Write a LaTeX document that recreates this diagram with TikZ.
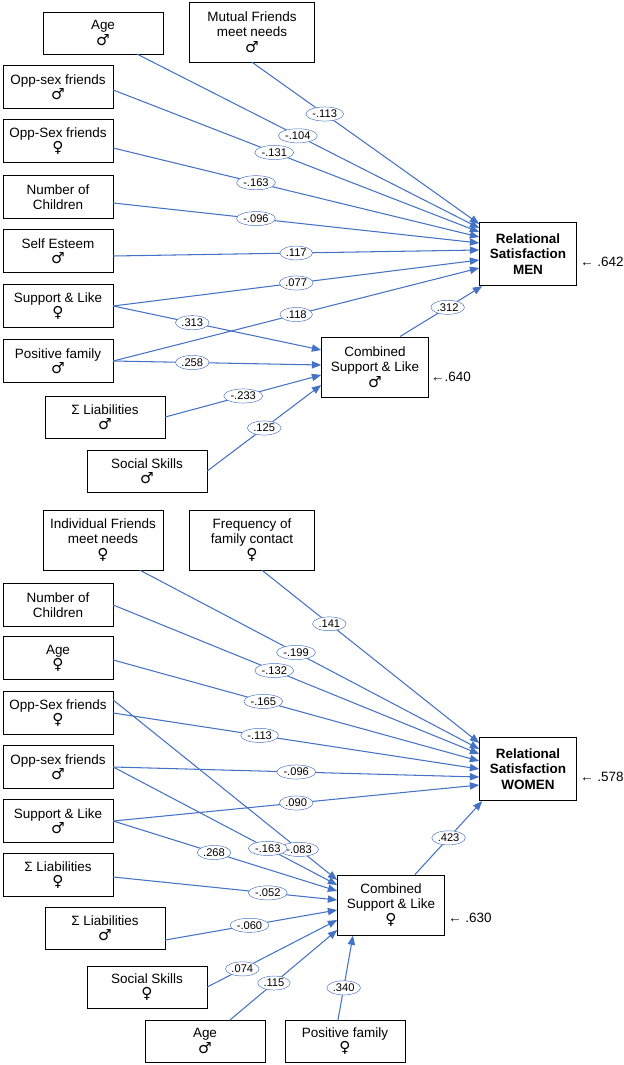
\documentclass[tikz,border=0pt]{standalone}
\usepackage{fontspec}
\setmainfont{Liberation Sans}
\newfontfamily\symfont{DejaVu Sans}
\usetikzlibrary{arrows.meta,shapes.geometric,calc}
\newcommand*{\mS}{{\symfont\fontsize{13}{13}\selectfont\char"2642}}
\newcommand*{\fS}{{\symfont\fontsize{13}{13}\selectfont\char"2640}}
\definecolor{pathblue}{RGB}{68,114,196}
\tikzset{
  box/.style={draw, thin, align=center, minimum width=3.3cm, minimum height=1.29cm, inner sep=1pt, font=\fontsize{11.5}{13}\selectfont},
  wbox/.style={box, minimum width=3.6cm, minimum height=1.25cm},
  tbox/.style={box, minimum width=3.75cm, minimum height=1.8cm},
  outbox/.style={box, thick, minimum width=2.9cm, minimum height=1.9cm, font=\fontsize{11.5}{13}\selectfont\bfseries},
  combbox/.style={box, thick, minimum width=3.2cm, minimum height=1.8cm},
  path/.style={pathblue, line width=0.9pt, -{Triangle[length=2.8mm,width=2.2mm]}},
  lab/.style={ellipse, draw, thin, fill=white, inner sep=0.9pt, font=\fontsize{9.5}{10}\selectfont, text=black},
  resid/.style={font=\fontsize{11.5}{13}\selectfont}
}
\begin{document}
\begin{tikzpicture}[x=0.03cm, y=-0.03cm]
\useasboundingbox (0,0) rectangle (624,1065);

% draw men model

\node[wbox] (age) at (103,33) {Age\\\mS};
\node[tbox] (mutual) at (252,32) {Mutual Friends\\meet needs\\\mS};
\node[box] (oppm) at (58,87) {Opp-sex friends\\\mS};
\node[box] (oppf) at (58,141) {Opp-Sex friends\\\fS};
\node[box] (nchild) at (58,197) {Number of\\Children};
\node[box] (self) at (58,251) {Self Esteem\\\mS};
\node[box] (suppf) at (58,306) {Support \& Like\\\fS};
\node[box] (posfam) at (58,361) {Positive family\\\mS};
\node[wbox] (liab) at (105,417) {Σ Liabilities\\\mS};
\node[wbox] (social) at (147,471) {Social Skills\\\mS};
\node[outbox] (men) at (528,254) {Relational\\Satisfaction\\MEN};
\node[combbox] (comb) at (375,367) {Combined\\Support \& Like\\\mS};
\node[resid] (rmen) at (602,262) {← .642};
\node[resid] (rcomb) at (451,377) {←.640};

\draw[path] (mutual.south) -- ($(men.west)+(0,-30)$) node[lab,pos=.32] {-.113};
\draw[path] ($(age.south)+(34,0)$) -- ($(men.west)+(0,-26)$) node[lab,pos=.47] {-.104};
\draw[path] ($(oppm.east)+(0,3)$) -- ($(men.west)+(0,-22)$) node[lab,pos=.44] {-.131};
\draw[path] ($(oppf.east)+(0,7)$) -- ($(men.west)+(0,-17)$) node[lab,pos=.39] {-.163};
\draw[path] ($(nchild.east)+(0,6)$) -- ($(men.west)+(0,-11)$) node[lab,pos=.39] {-.096};
\draw[path] ($(self.east)+(0,5)$) -- ($(men.west)+(0,-4)$) node[lab,pos=.5] {.117};
\draw[path] (suppf.east) -- ($(men.west)+(0,6)$) node[lab,pos=.5] {.077};
\draw[path] (posfam.east) -- ($(men.west)+(0,14)$) node[lab,pos=.5] {.118};
\draw[path] (suppf.east) -- ($(comb.west)+(0,-17)$) node[lab,pos=.38] {.313};
\draw[path] (posfam.east) -- ($(comb.west)+(0,-2)$) node[lab,pos=.38] {.258};
\draw[path] (liab.east) -- ($(comb.west)+(0,8)$) node[lab,pos=.5] {-.233};
\draw[path] ($(social.east)+(0,0)$) -- ($(comb.west)+(0,18)$) node[lab,pos=.5] {.125};
\draw[path] ($(comb.north)+(25,0)$) -- ($(men.south west)+(3,0)$) node[lab,pos=.58] {.312};

% draw women model

\node[tbox, minimum width=3.6cm] (indiv) at (103,540) {Individual Friends\\meet needs\\\fS};
\node[tbox] (freq) at (252,540) {Frequency of\\family contact\\\fS};
\node[box] (nchildw) at (58,605) {Number of\\Children};
\node[box] (agef) at (58,658) {Age\\\fS};
\node[box] (oppfw) at (58,713) {Opp-Sex friends\\\fS};
\node[box] (oppmw) at (58,767) {Opp-sex friends\\\mS};
\node[box] (suppm) at (58,821) {Support \& Like\\\mS};
\node[box] (liabf) at (58,875) {Σ Liabilities\\\fS};
\node[wbox] (liabm) at (105,928) {Σ Liabilities\\\mS};
\node[wbox] (socialf) at (147,987) {Social Skills\\\fS};
\node[wbox] (agem) at (205,1041) {Age\\\mS};
\node[wbox] (posf) at (345,1041) {Positive family\\\fS};
\node[outbox] (women) at (528,769) {Relational\\Satisfaction\\WOMEN};
\node[combbox] (combw) at (391,905) {Combined\\Support \& Like\\\fS};
\node[resid] (rwomen) at (602,777) {← .578};
\node[resid] (rcombw) at (470,918) {← .630};

\draw[path] ($(freq.south)+(10,0)$) -- ($(women.west)+(0,-26)$) node[lab,pos=.31] {.141};
\draw[path] ($(indiv.south)+(37,0)$) -- ($(women.west)+(0,-20)$) node[lab,pos=.46] {-.199};
\draw[path] (nchildw.east) -- ($(women.west)+(0,-15)$) node[lab,pos=.44] {-.132};
\draw[path] ($(agef.east)+(0,2)$) -- ($(women.west)+(0,-8)$) node[lab,pos=.41] {-.165};
\draw[path] (oppfw.east) -- ($(women.west)+(0,0)$) node[lab,pos=.4] {-.113};
\draw[path] (oppmw.east) -- ($(women.west)+(0,8)$) node[lab,pos=.5] {-.096};
\draw[path] (suppm.east) -- ($(women.west)+(0,16)$) node[lab,pos=.5] {.090};
\draw[path] ($(combw.north)+(24,0)$) -- ($(women.south west)+(3,0)$) node[lab,pos=.5] {.423};
\draw[path] ($(oppfw.east)+(0,-13)$) -- ($(combw.west)+(0,-25)$) node[lab,pos=.83] {-.083};
\draw[path] (oppmw.east) -- ($(combw.west)+(0,-20)$) node[lab,pos=.69] {-.163};
\draw[path] (suppm.east) -- ($(combw.west)+(0,-14)$) node[lab,pos=.45] {.268};
\draw[path] ($(liabf.east)+(0,2)$) -- ($(combw.west)+(0,-5)$) node[lab,pos=.69] {-.052};
\draw[path] ($(liabm.east)+(0,12)$) -- ($(combw.west)+(0,5)$) node[lab,pos=.49] {-.060};
\draw[path] (socialf.east) -- ($(combw.west)+(0,15)$) node[lab,pos=.27] {.074};
\draw[path] ($(agem.north)+(25,0)$) -- ($(combw.west)+(0,25)$) node[lab,pos=.41] {.115};
\draw[path] ($(posf.north)+(-7,0)$) -- ($(combw.south)+(-38,0)$) node[lab,pos=.38] {.340};

\end{tikzpicture}
\end{document}
